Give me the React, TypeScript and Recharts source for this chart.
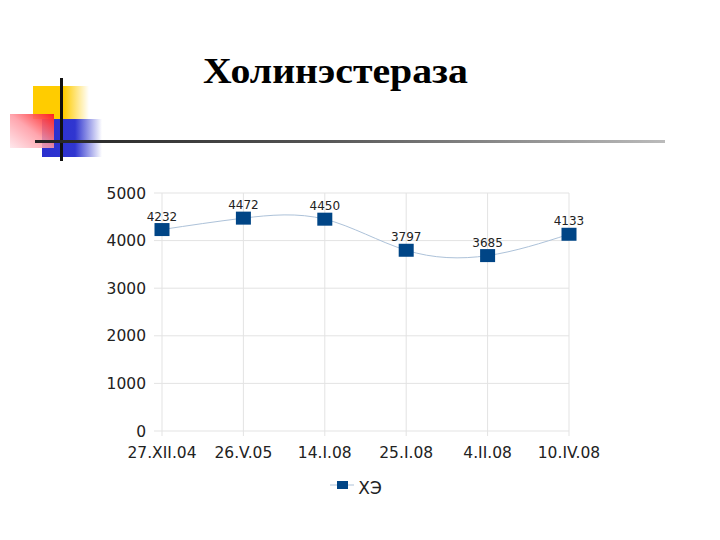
import { CartesianGrid, LabelList, Legend, Line, LineChart, XAxis, YAxis } from "recharts";

const dates = ["27.XII.04", "26.V.05", "14.I.08", "25.I.08", "4.II.08", "10.IV.08"];
const cholinesterase = [4232, 4472, 4450, 3797, 3685, 4133];
const yTicks = [0, 1000, 2000, 3000, 4000, 5000];

const data = dates.map((date, i) => ({ date, value: cholinesterase[i] }));

const markerColor = "#004586";
const lineColor = "#adc2d9";
const font = "'DejaVu Sans', Arial, sans-serif";

function SquareDot(props: any) {
  const { cx, cy } = props;
  if (cx == null || cy == null) return null;
  return <rect x={cx - 7.5} y={cy - 6.5} width={15} height={13} fill={markerColor} />;
}

function ChartLegend() {
  return (
    <div style={{ display: "flex", justifyContent: "center", alignItems: "center", fontFamily: font, fontSize: 17, color: "#222" }}>
      <svg width={24} height={12} style={{ marginRight: 4, marginTop: -6 }}>
        <line x1={0} y1={6} x2={24} y2={6} stroke={lineColor} strokeWidth={1} />
        <rect x={7} y={2} width={11} height={8} fill={markerColor} />
      </svg>
      <span>ХЭ</span>
    </div>
  );
}

function Decoration() {
  return (
    <div style={{ position: "absolute", left: 0, top: 0, width: 720, height: 170, pointerEvents: "none" }}>
      <div style={{ position: "absolute", left: 33, top: 86, width: 56, height: 33, background: "linear-gradient(to right, #ffcc00 0%, #ffcc00 55%, rgba(255,220,120,0) 100%)" }} />
      <div style={{ position: "absolute", left: 42, top: 119, width: 60, height: 38, background: "linear-gradient(to right, #2a2fcf 0%, #3036d0 55%, rgba(80,90,230,0) 100%)" }} />
      <div style={{ position: "absolute", left: 10, top: 114, width: 44, height: 34, background: "linear-gradient(to bottom left, #ff2020 0%, rgba(255,150,160,0.85) 50%, rgba(255,230,235,0.9) 100%)" }} />
      <div style={{ position: "absolute", left: 60, top: 78, width: 3, height: 83, background: "#111" }} />
      <div style={{ position: "absolute", left: 35, top: 140, width: 630, height: 3, background: "linear-gradient(to right, #222 0%, #555 45%, #bbb 100%)" }} />
      <svg style={{ position: "absolute", left: 0, top: 0 }} width={720} height={110}>
        <text x={203} y={83} textLength={265} lengthAdjust="spacingAndGlyphs" fontFamily="'Liberation Serif', 'Times New Roman', serif" fontWeight="bold" fontSize={36} fill="#000">
          Холинэстераза
        </text>
      </svg>
    </div>
  );
}

export default function App() {
  return (
    <div style={{ position: "absolute", left: 0, top: 0, width: 720, height: 540, background: "#fff" }}>
      <Decoration />
      <div style={{ position: "absolute", left: 0, top: 0 }}>
        <LineChart width={720} height={540} data={data} margin={{ top: 193, right: 151, bottom: 49, left: 90 }}>
          <CartesianGrid stroke="#e3e3e3" />
          <XAxis
            dataKey="date"
            axisLine={false}
            tickLine={{ stroke: "#e3e3e3" }}
            tickSize={5}
            interval={0}
            tick={{ fill: "#222", fontSize: 15.5, fontFamily: font }}
            height={40}
            tickMargin={11}
          />
          <YAxis
            domain={[0, 5000]}
            ticks={yTicks}
            axisLine={false}
            tickLine={{ stroke: "#e3e3e3" }}
            tickSize={8}
            width={72}
            tickMargin={8}
            tick={{ fill: "#222", fontSize: 15.5, fontFamily: font }}
          />
          <Legend verticalAlign="bottom" content={<ChartLegend />} wrapperStyle={{ top: 478, left: 0, width: 712 }} />
          <Line
            type="natural"
            dataKey="value"
            name="ХЭ"
            stroke={lineColor}
            strokeWidth={1}
            dot={<SquareDot />}
            activeDot={false}
            isAnimationActive={false}
          >
            <LabelList dataKey="value" position="top" offset={9} fill="#222" fontSize={12} fontFamily={font} />
          </Line>
        </LineChart>
      </div>
    </div>
  );
}
